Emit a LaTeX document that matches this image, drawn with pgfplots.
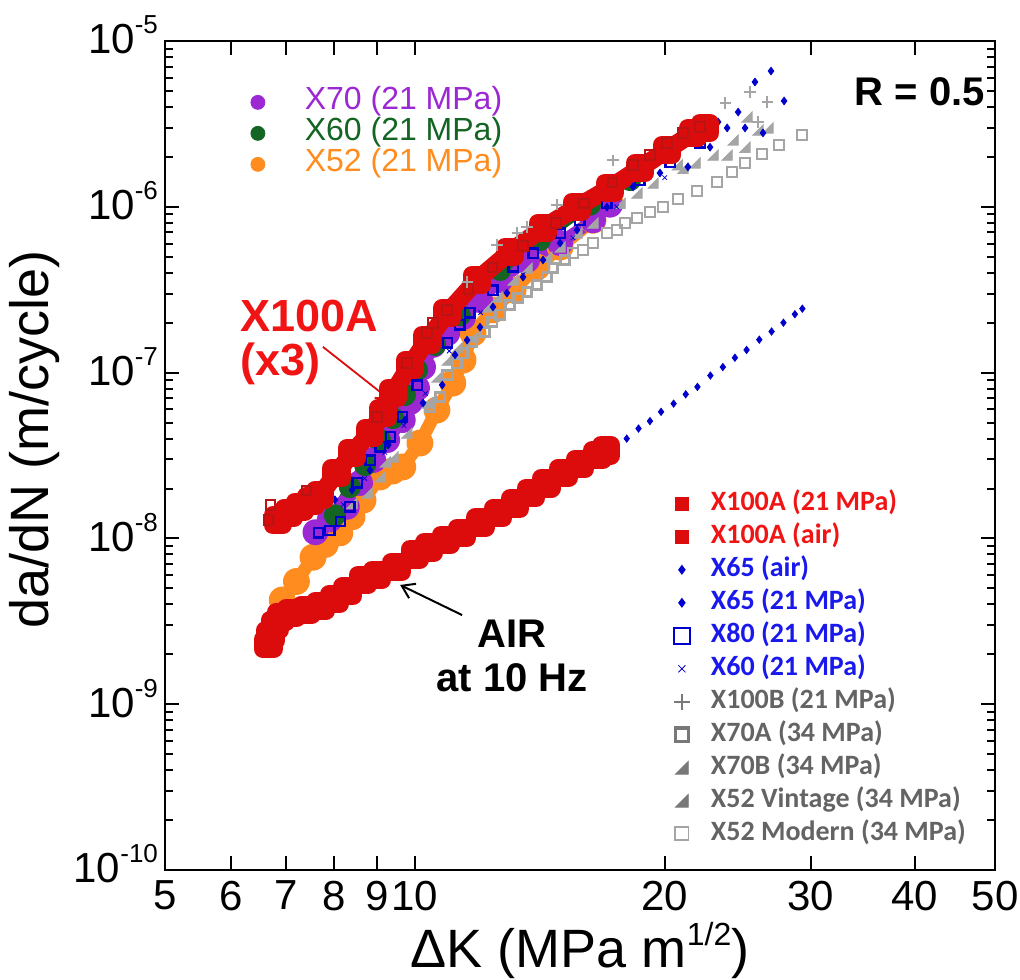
\documentclass[border=0pt]{standalone}
\usepackage{fontspec}
\setmainfont{Liberation Sans}
\newfontfamily\calibri{Carlito}
\usepackage{pgfplots}
\pgfplotsset{compat=1.18}
\usetikzlibrary{arrows.meta}

\definecolor{cRed}{RGB}{221,12,12}
\definecolor{cRedTxt}{RGB}{240,20,20}
\definecolor{cDkRed}{RGB}{185,20,20}
\definecolor{cBlue}{RGB}{0,0,205}
\definecolor{cBlueTxt}{RGB}{25,25,235}
\definecolor{cGray}{RGB}{165,165,165}
\definecolor{cGrayTxt}{RGB}{100,100,100}
\definecolor{cGrayMk}{RGB}{120,120,120}
\definecolor{cPurple}{RGB}{155,40,210}
\definecolor{cGreen}{RGB}{20,100,35}
\definecolor{cOrange}{RGB}{255,140,30}

% right-angled triangle marker
\pgfdeclareplotmark{rtri}{%
  \pgfpathmoveto{\pgfqpoint{\pgfplotmarksize}{-\pgfplotmarksize}}%
  \pgfpathlineto{\pgfqpoint{\pgfplotmarksize}{\pgfplotmarksize}}%
  \pgfpathlineto{\pgfqpoint{-\pgfplotmarksize}{-\pgfplotmarksize}}%
  \pgfpathclose\pgfusepathqfillstroke}

\newcommand\pw[1]{10\raisebox{10pt}{\fontsize{13}{13}\selectfont #1}}

\begin{document}
\begin{tikzpicture}
\useasboundingbox (-82.5pt,-54.5pt) rectangle (427.5pt,435pt);

% ---- circles (drawn underneath), legend top left
\begin{axis}[xmode=log, ymode=log, xmin=5, xmax=50, ymin=1e-10, ymax=1e-5,
  scale only axis, width=415pt, height=414.5pt, hide axis,
  legend cell align=left,
  legend image code/.code={\path (0cm,0cm) (1.0cm,0cm); \draw[#1] plot coordinates {(0.2cm,0cm)};},
  legend style={at={(rel axis cs:0.09,0.95)}, anchor=north west, draw=none, fill=none,
    font=\fontsize{16}{18}\selectfont,
    nodes={text height=11pt, text depth=3.5pt, inner sep=0.5pt}},
]
\addplot[cOrange, line width=6.5pt, line join=round, line cap=round, mark=*, mark size=3.5pt, forget plot] coordinates {
(6.92,4.25e-9) (7.2,5.5e-9) (7.54,7.7e-9) (7.8,9.2e-9) (8.12,1.08e-8) (8.4,1.35e-8)
(8.66,1.70e-8) (9.08,2.35e-8) (9.4,2.55e-8) (9.67,2.7e-8) (10.14,3.76e-8) (10.63,5.95e-8)
(11.11,8.65e-8) (11.43,1.19e-7) (11.75,1.73e-7) (12.42,2.39e-7) (13.13,3.15e-7)
(14.03,4.33e-7) (14.96,5.72e-7) (16.39,8.3e-7) (17.18,1.05e-6)};
\addplot[cPurple, line width=6pt, line join=round, line cap=round, mark=*, mark size=3.5pt, forget plot] coordinates {
(7.59,1.09e-8) (7.9,1.3e-8) (8.28,1.55e-8) (8.59,2.16e-8) (8.91,2.97e-8) (9.26,3.92e-8)
(9.67,5.18e-8) (9.87,6.65e-8) (10.06,8.07e-8) (10.23,1.08e-7) (10.52,1.47e-7)
(10.94,1.73e-7) (11.43,2.16e-7) (11.98,2.74e-7) (12.67,3.62e-7) (13.65,4.78e-7)
(14.96,6.05e-7) (16.39,8.3e-7) (17.18,1.03e-6)};
\addplot[cGreen, line width=5pt, line join=round, line cap=round, mark=*, mark size=3pt, forget plot] coordinates {
(8.01,1.38e-8) (8.35,2.04e-8) (8.71,2.77e-8) (9.08,3.92e-8) (9.41,5.32e-8) (9.73,7.33e-8)
(10.06,1.04e-7) (10.58,1.47e-7) (11.33,2.22e-7) (12.67,4.16e-7) (14.15,6.3e-7)
(16.26,1.03e-6) (18.17,1.45e-6)};
\addlegendimage{mark=*, mark size=3.5pt, cPurple}
\addlegendentry{\textcolor{cPurple}{X70 (21 MPa)}}
\addlegendimage{mark=*, mark size=3.5pt, cGreen}
\addlegendentry{\textcolor{cGreen}{X60 (21 MPa)}}
\addlegendimage{mark=*, mark size=3.5pt, cOrange}
\addlegendentry{\textcolor{cOrange}{X52 (21 MPa)}}
\end{axis}

% ---- main axis
\begin{axis}[xmode=log, ymode=log, xmin=5, xmax=50, ymin=1e-10, ymax=1e-5,
  scale only axis, width=415pt, height=414.5pt,
  axis line style={line width=1.4pt},
  every tick/.style={black, line width=1pt},
  major tick length=7pt, minor tick length=4pt,
  xtick={5,6,7,8,9,10,20,30,40,50},
  xticklabels={5,6,7,8,9,10,20,30,40,50},
  minor xtick={},
  ytick={1e-10,1e-9,1e-8,1e-7,1e-6,1e-5},
  yticklabels={\pw{-10},\pw{-9},\pw{-8},\pw{-7},\pw{-6},\pw{-5}},
  ticklabel style={font=\fontsize{21}{21}\selectfont},
  xticklabel style={yshift=-2pt},
  yticklabel style={yshift=3pt},
  xlabel={ΔK (MPa m\raisebox{11pt}{\fontsize{16}{16}\selectfont 1/2})},
  ylabel={da/dN (m/cycle)},
  label style={font=\fontsize{27}{27}\selectfont},
  xlabel style={at={(axis description cs:0.5,-0.0965)}, anchor=center},
  ylabel style={at={(axis description cs:-0.157,0.519)}, anchor=center},
  legend cell align=left,
  legend image code/.code={\path (0cm,0cm) (0.75cm,0cm); \draw[#1] plot coordinates {(0.3cm,0cm)};},
  legend style={at={(rel axis cs:0.594,0.467)}, anchor=north west, draw=none, fill=none,
    font=\calibri\bfseries\fontsize{14}{16}\selectfont,
    nodes={text height=10pt, text depth=3.5pt, inner sep=1.5pt}},
]
% X65 air
\addplot[only marks, mark=diamond*, mark size=1.8pt, cBlue, forget plot] coordinates {
(8.5,6.2e-9) (8.8,6.6e-9) (9.2,6.9e-9) (10.6,1.0e-8) (11.0,1.1e-8) (12.5,1.5e-8)
(15.0,2.6e-8) (16.3,3.2e-8) (17.2,3.6e-8)
(17.5,3.65e-8) (18.0,4.0e-8) (18.6,4.6e-8) (19.2,5.1e-8) (19.8,5.8e-8) (20.5,6.5e-8)
(21.2,7.4e-8) (21.9,8.2e-8) (22.7,9.6e-8) (23.5,1.08e-7) (24.3,1.23e-7) (25.1,1.37e-7)
(26.0,1.58e-7) (26.9,1.77e-7) (27.8,2.0e-7) (28.7,2.25e-7) (29.3,2.43e-7)};
% X100A air
\addplot[cRed, line width=9pt, line join=round, line cap=butt, mark=square*, mark size=2.6pt, forget plot] coordinates {
(6.66,2.3e-9) (6.70,2.6e-9) (6.78,3.0e-9) (6.9,3.35e-9) (7.1,3.55e-9) (7.4,3.7e-9)
(7.7,3.9e-9) (8.0,4.3e-9) (8.3,4.8e-9) (8.66,5.6e-9) (9.0,6.0e-9) (9.5,6.7e-9)
(10.0,8.0e-9) (10.4,8.8e-9) (10.9,9.8e-9) (11.4,1.08e-8) (12.0,1.25e-8) (12.6,1.42e-8)
(13.2,1.62e-8) (13.8,1.88e-8) (14.4,2.15e-8) (15.1,2.48e-8) (15.8,2.8e-8)
(16.6,3.18e-8) (17.0,3.4e-8)};
% X70A (34 MPa)
\addplot[only marks, mark=square, mark size=2.4pt, cGray, mark options={line width=1.4pt}, forget plot] coordinates {
(10.43,6.2e-8) (10.72,7.13e-8) (10.94,9.67e-8) (11.24,1.14e-7) (11.43,1.31e-7)
(11.72,1.53e-7) (12.15,1.76e-7) (12.39,2.02e-7) (12.67,2.23e-7) (13.02,2.56e-7)
(13.31,2.82e-7) (13.65,3.06e-7) (14.03,3.38e-7) (14.42,3.77e-7) (14.67,4.27e-7)
(15.17,4.78e-7)};
% X52 Modern (34 MPa)
\addplot[only marks, mark=square, mark size=2.5pt, cGray, mark options={line width=1.1pt}, forget plot] coordinates {
(15.51,5.26e-7) (15.94,5.49e-7) (16.39,6.05e-7) (17.04,6.95e-7) (17.52,7.25e-7)
(17.91,7.98e-7) (18.52,8.55e-7) (19.20,9.3e-7) (19.91,9.97e-7) (20.76,1.11e-6)
(21.88,1.24e-6) (23.13,1.41e-6) (24.12,1.62e-6) (24.99,1.84e-6) (26.20,2.08e-6)
(27.46,2.36e-6) (29.28,2.71e-6)};
% X70B (34 MPa)
\addplot[only marks, mark=rtri, mark size=2.6pt, cGray, forget plot] coordinates {
(8.76,1.88e-8) (9.08,2.35e-8) (9.41,3.1e-8) (9.78,4.32e-8) (10.35,6.56e-8)
(10.63,9.41e-8) (10.94,1.19e-7) (11.24,1.41e-7) (11.75,1.64e-7) (12.22,2.49e-7)
(12.56,2.86e-7) (13.13,3.62e-7) (13.65,4.27e-7) (14.42,4.98e-7) (14.96,5.72e-7)
(15.68,6.95e-7) (16.39,7.98e-7) (18.52,1.21e-6) (20.71,1.79e-6) (22.87,2.05e-6)
(24.99,2.29e-6) (26.63,2.99e-6)};
% X52 Vintage (34 MPa)
\addplot[only marks, mark=rtri, mark size=2.6pt, cGray, forget plot] coordinates {
(8.40,1.63e-8) (9.21,2.89e-8) (17.67,1.05e-6) (19.36,1.39e-6) (21.04,1.71e-6)
(21.76,1.84e-6) (23.78,2.05e-6) (24.18,2.53e-6) (25.13,3.48e-6) (25.90,2.90e-6)};
% X80 (21 MPa)
\addplot[only marks, mark=square, mark size=2.3pt, cBlue, mark options={line width=1.1pt}, forget plot] coordinates {
(7.43,1.75e-8) (7.65,1.08e-8) (7.90,1.12e-8) (8.13,1.26e-8) (8.35,1.55e-8)
(8.52,2.16e-8) (8.83,2.97e-8) (9.08,3.56e-8) (9.34,4.09e-8) (9.67,5.4e-8)
(10.06,8.42e-8) (10.94,1.51e-7) (11.33,1.94e-7) (11.65,2.29e-7) (12.42,3.15e-7)
(13.13,4.34e-7) (13.88,5.26e-7) (14.96,6.95e-7) (15.81,8.32e-7) (17.04,1.05e-6)
(18.67,1.45e-6) (20.30,1.86e-6) (22.06,2.43e-6)};
% X65 (21 MPa)
\addplot[only marks, mark=diamond*, mark size=1.9pt, cBlue, forget plot] coordinates {
(8.01,1.71e-8) (8.40,1.96e-8) (8.83,2.58e-8) (9.29,3.66e-8) (9.73,5.18e-8)
(10.23,6.56e-8) (10.79,8.42e-8) (11.18,1.28e-7) (11.56,1.57e-7) (11.98,1.88e-7)
(12.42,2.49e-7) (12.91,3.02e-7) (13.50,3.77e-7) (14.27,4.78e-7) (14.96,6.05e-7)
(15.68,7.25e-7) (17.04,9.97e-7) (18.32,1.32e-6) (19.74,1.6e-6) (21.33,1.74e-6)
(22.68,2.29e-6) (23.19,3.25e-6) (23.78,2.99e-6) (24.52,3.73e-6) (24.99,2.99e-6)
(25.69,5.66e-6) (26.27,2.79e-6) (26.86,6.59e-6) (27.85,4.35e-6)};
% X60 (21 MPa)
\addplot[only marks, mark=x, mark size=1.6pt, cBlue, forget plot] coordinates {
(8.2,1.6e-8) (8.7,2.3e-8) (9.2,3.3e-8) (9.7,4.8e-8) (10.3,7.5e-8) (11.0,1.35e-7)
(12.0,2.3e-7) (13.5,3.9e-7) (15.5,6.5e-7) (17.5,1.0e-6) (20.0,1.5e-6)};
% X100A (21 MPa)
\addplot[cRed, line width=9pt, line join=round, line cap=butt, mark=square*, mark size=2.6pt, forget plot] coordinates {
(6.84,1.29e-8) (7.05,1.42e-8) (7.27,1.55e-8) (7.5,1.68e-8) (7.69,1.83e-8)
(8.05,2.48e-8) (8.40,3.27e-8) (8.83,4.32e-8) (9.16,5.71e-8) (9.41,7.53e-8)
(9.87,1.11e-7) (10.35,1.57e-7) (10.94,2.29e-7) (11.88,3.62e-7) (13.02,5.34e-7)
(14.27,7.45e-7) (15.68,9.97e-7) (17.18,1.30e-6) (18.67,1.71e-6) (20.13,2.20e-6)
(21.63,2.79e-6) (22.36,2.99e-6)};
\addplot[only marks, mark=square, mark size=2.4pt, cDkRed, mark options={line width=1pt}, forget plot] coordinates {
(6.7,1.59e-8) (6.66,1.29e-8) (7.4,1.95e-8) (9.0,5.4e-8) (9.78,1.14e-7) (10.35,1.73e-7)
(10.52,1.99e-7) (10.94,2.38e-7) (11.6,3.2e-7) (12.4,4.3e-7) (13.5,5.8e-7) (14.8,8.0e-7)
(16.0,1.05e-6) (17.3,1.4e-6) (18.32,1.79e-6) (19.2,2.05e-6) (20.13,2.43e-6)
(21.04,2.79e-6) (22.06,3.03e-6)};
% X100B (21 MPa)
\addplot[only marks, mark=+, mark size=2.8pt, cGray, mark options={line width=1.1pt}, forget plot] coordinates {
(11.56,3.52e-7) (12.56,5.88e-7) (13.28,6.95e-7) (13.65,7.55e-7) (14.83,1.03e-6)
(17.33,1.91e-6) (23.65,4.23e-6) (25.34,4.92e-6) (25.90,3.25e-6) (26.57,4.29e-6)};

% legend entries
\addlegendimage{mark=square*, mark size=3.2pt, cRed}
\addlegendentry{\textcolor{cRedTxt}{X100A (21 MPa)}}
\addlegendimage{mark=square*, mark size=3.2pt, cRed}
\addlegendentry{\textcolor{cRedTxt}{X100A (air)}}
\addlegendimage{mark=diamond*, mark size=2.2pt, cBlue}
\addlegendentry{\textcolor{cBlueTxt}{X65 (air)}}
\addlegendimage{mark=diamond*, mark size=2.2pt, cBlue}
\addlegendentry{\textcolor{cBlueTxt}{X65 (21 MPa)}}
\addlegendimage{mark=square, mark size=4pt, cBlue, mark options={line width=1.1pt}}
\addlegendentry{\textcolor{cBlueTxt}{X80 (21 MPa)}}
\addlegendimage{mark=x, mark size=2.5pt, cBlue}
\addlegendentry{\textcolor{cBlueTxt}{X60 (21 MPa)}}
\addlegendimage{mark=+, mark size=4pt, cGrayMk, mark options={line width=0.8pt}}
\addlegendentry{\textcolor{cGrayTxt}{X100B (21 MPa)}}
\addlegendimage{mark=square, mark size=3.3pt, cGrayMk, mark options={line width=1.8pt}}
\addlegendentry{\textcolor{cGrayTxt}{X70A (34 MPa)}}
\addlegendimage{mark=rtri, mark size=3.2pt, cGrayMk}
\addlegendentry{\textcolor{cGrayTxt}{X70B (34 MPa)}}
\addlegendimage{mark=rtri, mark size=3.2pt, cGrayMk}
\addlegendentry{\textcolor{cGrayTxt}{X52 Vintage (34 MPa)}}
\addlegendimage{mark=square, mark size=3.3pt, cGray, mark options={line width=0.9pt}}
\addlegendentry{\textcolor{cGrayTxt}{X52 Modern (34 MPa)}}

% annotations
\node[anchor=north west, align=left, inner sep=0pt, text=cRedTxt,
  font=\bfseries\fontsize{22.5}{22}\selectfont] at (rel axis cs:0.0904,0.6876) {X100A\\(x3)};
\draw[cRed, line width=0.9pt, -{Straight Barb[length=6pt,width=8pt]}]
  (axis cs:7.75,1.43e-7) -- (axis cs:9.34,6.84e-8);
\node[anchor=north, align=center, inner sep=0pt,
  font=\bfseries\fontsize{20}{22}\selectfont] at (rel axis cs:0.418,0.3016) {AIR\\at 10 Hz};
\draw[black, line width=1pt, -{Straight Barb[length=6pt,width=8pt]}]
  (axis cs:11.40,3.45e-9) -- (axis cs:9.60,5.24e-9);
\node[anchor=east, inner sep=0pt, font=\bfseries\fontsize{20}{22}\selectfont]
  at (rel axis cs:0.988,0.939) {R = 0.5};
\end{axis}
\end{tikzpicture}
\end{document}
